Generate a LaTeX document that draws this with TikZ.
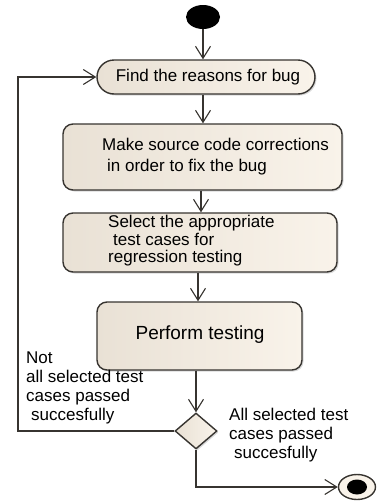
\documentclass[tikz,border=0pt]{standalone}
\usepackage{fontspec}
\setmainfont{Liberation Sans}
\usetikzlibrary{arrows.meta,shapes.geometric,shadows}
\definecolor{edge}{RGB}{55,52,48}
\definecolor{boxfill}{RGB}{241,234,223}
\definecolor{boxleft}{RGB}{233,225,213}
\definecolor{boxright}{RGB}{249,243,234}
\tikzset{
  act/.style={draw=edge, line width=1.4pt, left color=boxleft, right color=boxright, rectangle, rounded corners=10pt,
    inner sep=0pt, drop shadow={shadow xshift=1.5pt, shadow yshift=-1.5pt, opacity=0.3}},
  txt/.style={inner sep=0pt, align=left, font=\fontsize{17}{19}\selectfont, text=black},
  arr/.style={draw=edge, line width=1.1pt, -{Straight Barb[length=12pt,width=15pt,line width=1.1pt]}},
}
\begin{document}
\begin{tikzpicture}[x=1pt,y=-1pt]
\useasboundingbox (0,0) rectangle (378,504);
% start
\node[ellipse, fill=black, minimum width=34pt, minimum height=24pt, inner sep=0pt] (start) at (203,17) {};
% activities
\node[act, rounded corners=17pt, minimum width=218pt, minimum height=34pt] (find) at (206,77) {};
\node[txt] (findt) at (208,77) {Find the reasons for bug};
\node[act, minimum width=279pt, minimum height=66pt] (make) at (202.5,157) {};
\node[txt, font=\fontsize{17}{21}\selectfont, anchor=west] (maket) at (102,157) {Make source code corrections\\\hspace*{5pt}in order to fix the bug};
\node[act, minimum width=274pt, minimum height=59pt] (sel) at (200,242.5) {};
\node[txt, font=\fontsize{17}{17.5}\selectfont, anchor=west] (selt) at (108,241) {Select the appropriate\\\hspace*{5pt}test cases for\\regression testing};
\node[act, minimum width=205pt, minimum height=68pt] (perf) at (199.5,336) {};
\node[txt, font=\fontsize{19}{21}\selectfont] (perft) at (200,335) {Perform testing};
% decision
\node[diamond, draw=edge, line width=1.4pt, left color=boxleft, right color=boxright, minimum width=42pt, minimum height=36pt, inner sep=0pt,
  drop shadow={shadow xshift=1.5pt, shadow yshift=-1.5pt, opacity=0.3}] (dia) at (196,431) {};
% end
\node[ellipse, draw=edge, line width=1.4pt, fill=boxright, minimum width=37pt, minimum height=25pt, inner sep=0pt] (end) at (357,487) {};
\node[ellipse, fill=black, minimum width=20pt, minimum height=15pt, inner sep=0pt] (endin) at (357,487) {};
% connectors
\draw[arr] (start.south) -- (start.south |- find.north);
\draw[arr] (find.south -| 203,0) -- (make.north -| 203,0);
\draw[arr] (make.south -| 201,0) -- (sel.north -| 201,0);
\draw[arr] (sel.south -| 198,0) -- (perf.north -| 198,0);
\draw[arr] (perf.south -| dia.north) -- (dia.north);
\coordinate (lc) at (18,431);
\draw[arr] (dia.west) -- (lc) |- (find.west);
\draw[arr] (dia.south) |- (end.west);
% guard labels
\node[txt, anchor=west] (gl) at (26,388) {Not\\all selected test\\cases passed\\\hspace*{5pt}succesfully};
\node[txt, anchor=west] (gr) at (229,435) {All selected test\\cases passed\\\hspace*{5pt}succesfully};
\end{tikzpicture}
\end{document}
